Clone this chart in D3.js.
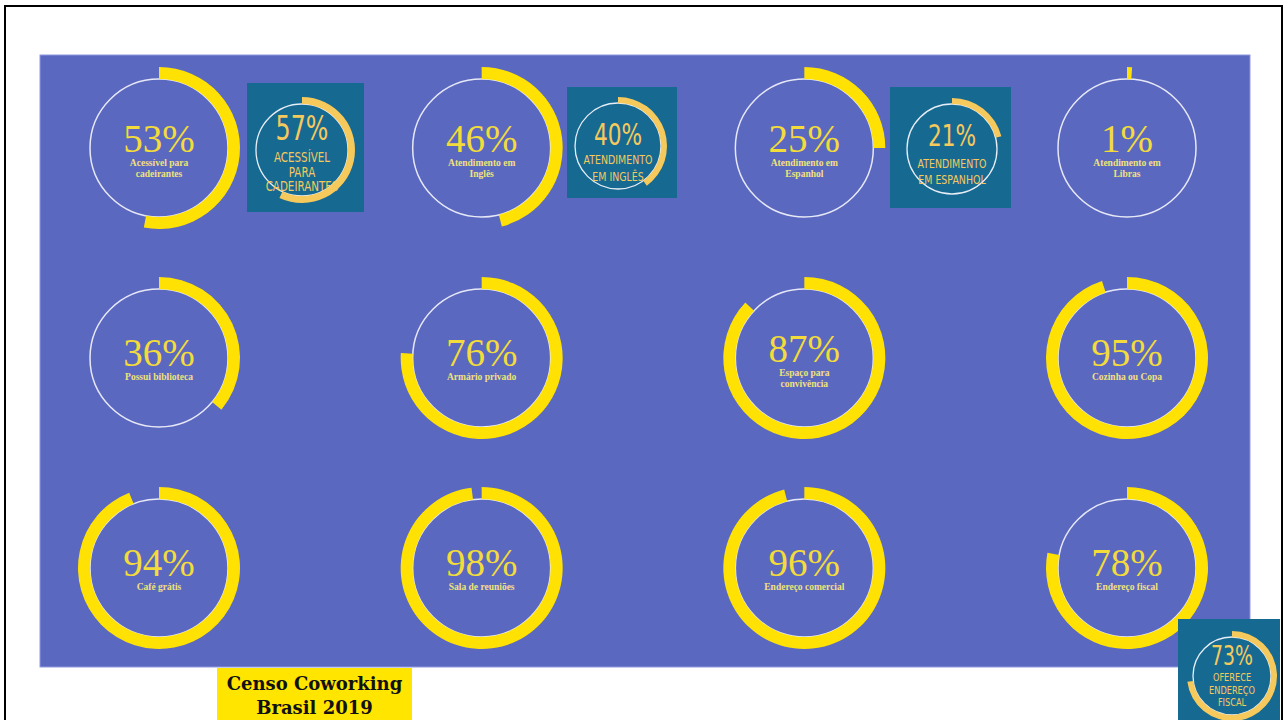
<!DOCTYPE html>
<html lang="en">
<head>
    <meta charset="UTF-8">
    <title>Censo Coworking Brasil 2019</title>
    <style>
        body {
            margin: 0;
            background-color: #ffffff;
            overflow: hidden;
        }
        svg {
            display: block;
        }
        .pct {
            font-family: "Liberation Serif", serif;
            fill: #f3dc3a;
        }
        .lbl {
            font-family: "Liberation Serif", serif;
            font-weight: bold;
            fill: #f1e17c;
        }
        .inset-text {
            font-family: "DejaVu Sans", sans-serif;
            fill: #f6c95c;
        }
    </style>
</head>
<body>
    <svg id="chart" width="1285" height="720"></svg>

    <script src="https://d3js.org/d3.v7.min.js"></script>
    <script>
        // 2019 values (main gauges), read left-to-right, top-to-bottom
        const values = [53, 46, 25, 1, 36, 76, 87, 95, 94, 98, 96, 78];
        const labels = [
            ["Acessível para", "cadeirantes"],
            ["Atendimento em", "Inglês"],
            ["Atendimento em", "Espanhol"],
            ["Atendimento em", "Libras"],
            ["Possui biblioteca"],
            ["Armário privado"],
            ["Espaço para", "convivência"],
            ["Cozinha ou Copa"],
            ["Café grátis"],
            ["Sala de reuniões"],
            ["Endereço comercial"],
            ["Endereço fiscal"]
        ];

        // previous edition values shown in the small teal boxes
        const insetValues = [57, 40, 21, 73];
        const insetLabels = [
            ["ACESSÍVEL", "PARA", "CADEIRANTES"],
            ["ATENDIMENTO", "EM INGLÊS"],
            ["ATENDIMENTO", "EM ESPANHOL"],
            ["OFERECE", "ENDEREÇO", "FISCAL"]
        ];

        const title = ["Censo Coworking", "Brasil 2019"];

        const svg = d3.select("#chart");

        // slide frame
        svg.append("rect")
            .attr("x", 5).attr("y", 6)
            .attr("width", 1277).attr("height", 730)
            .attr("fill", "#ffffff")
            .attr("stroke", "#000000")
            .attr("stroke-width", 2);

        // blue panel
        svg.append("rect")
            .attr("x", 40).attr("y", 55)
            .attr("width", 1210).attr("height", 612)
            .attr("fill", "#5b68c0")
            .attr("stroke", "#8f9ae0")
            .attr("stroke-width", 1);

        const cols = 4;
        const x = d3.scaleLinear().domain([0, cols - 1]).range([159, 1127]);
        const y = d3.scaleLinear().domain([0, 2]).range([148, 568]);
        const angle = d3.scaleLinear().domain([0, 100]).range([0, 2 * Math.PI]);

        const rInner = 69, rOuter = 81;
        const arc = d3.arc().innerRadius(rInner).outerRadius(rOuter).startAngle(0);

        const gauges = svg.selectAll(".gauge")
            .data(values.map((v, i) => ({ v, label: labels[i], i })))
            .enter().append("g")
            .attr("class", "gauge")
            .attr("transform", d => `translate(${x(d.i % cols)},${y(Math.floor(d.i / cols))})`);

        gauges.append("circle")
            .attr("r", rInner)
            .attr("fill", "none")
            .attr("stroke", "#e6e8f6")
            .attr("stroke-width", 1.5);

        gauges.append("path")
            .attr("d", d => arc({ endAngle: angle(d.v) }))
            .attr("fill", "#ffe203");

        gauges.append("text")
            .attr("class", "pct")
            .attr("text-anchor", "middle")
            .attr("y", d => d.label.length > 1 ? 4 : 8)
            .style("font-size", "39px")
            .text(d => d.v + "%");

        gauges.each(function(d) {
            const g = d3.select(this);
            const base = d.label.length > 1 ? 18 : 22;
            d.label.forEach((line, k) => {
                g.append("text")
                    .attr("class", "lbl")
                    .attr("text-anchor", "middle")
                    .attr("y", base + k * 11)
                    .style("font-size", "9.5px")
                    .text(line);
            });
        });

        // teal inset boxes with previous values
        const insetLayout = [
            { bx: 247, by: 83, bw: 117, bh: 129, cx: 302, cy: 150, ri: 46, ro: 53, fs: 34, py: 140, ly: 162, lh: 14.5 },
            { bx: 567, by: 87, bw: 110, bh: 111, cx: 618, cy: 146, ri: 43, ro: 49, fs: 31, py: 145, ly: 164, lh: 16.5 },
            { bx: 890, by: 87, bw: 121, bh: 121, cx: 952, cy: 149, ri: 45, ro: 51, fs: 31, py: 146, ly: 168, lh: 16 },
            { bx: 1178, by: 619, bw: 102, bh: 110, cx: 1232, cy: 676, ri: 39, ro: 45, fs: 27, py: 665, ly: 681, lh: 12.5 }
        ];

        insetValues.forEach((v, i) => {
            const L = insetLayout[i];
            const g = svg.append("g").attr("class", "inset");

            g.append("rect")
                .attr("x", L.bx).attr("y", L.by)
                .attr("width", L.bw).attr("height", L.bh)
                .attr("fill", "#166a92");

            g.append("circle")
                .attr("cx", L.cx).attr("cy", L.cy)
                .attr("r", L.ri)
                .attr("fill", "none")
                .attr("stroke", "#e8eef5")
                .attr("stroke-width", 1.3);

            g.append("path")
                .attr("transform", `translate(${L.cx},${L.cy})`)
                .attr("d", d3.arc().innerRadius(L.ri).outerRadius(L.ro)
                    .startAngle(0).endAngle(angle(v))())
                .attr("fill", "#f6c95c");

            g.append("text")
                .attr("class", "inset-text")
                .attr("text-anchor", "middle")
                .attr("transform", `translate(${L.cx},${L.py}) scale(0.7,1)`)
                .style("font-size", L.fs + "px")
                .text(v + "%");

            insetLabels[i].forEach((line, k) => {
                g.append("text")
                    .attr("class", "inset-text")
                    .attr("text-anchor", "middle")
                    .attr("transform", `translate(${L.cx},${L.ly + k * L.lh}) scale(0.76,1)`)
                    .style("font-size", (L.fs * 0.4) + "px")
                    .style("font-weight", "500")
                    .text(line);
            });
        });

        // yellow title tag
        svg.append("rect")
            .attr("x", 217).attr("y", 668)
            .attr("width", 195).attr("height", 60)
            .attr("fill", "#ffe500");

        svg.selectAll(".title")
            .data(title)
            .enter().append("text")
            .attr("class", "title")
            .attr("x", 314.5)
            .attr("y", (d, i) => 690 + i * 24)
            .attr("text-anchor", "middle")
            .style("font-family", "'DejaVu Serif', serif")
            .style("font-weight", "bold")
            .style("font-size", "18px")
            .style("fill", "#111111")
            .text(d => d);
    </script>
</body>
</html>
